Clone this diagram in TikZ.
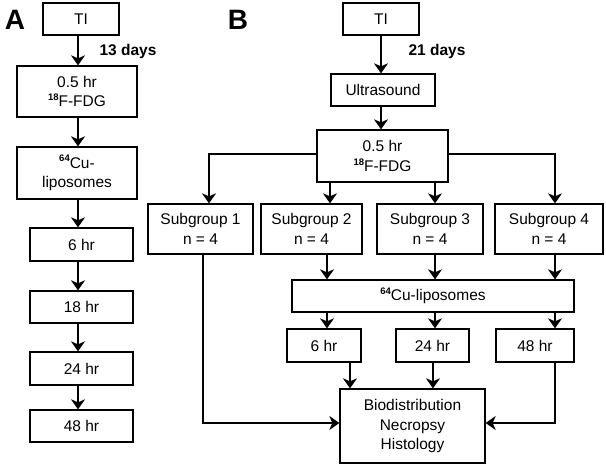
\documentclass[tikz,border=0pt]{standalone}
\usepackage{fontspec}
\setmainfont{Liberation Sans}
\usetikzlibrary{arrows.meta}
\newcommand\supr[1]{\raisebox{0.4em}{\fontsize{9.5}{10}\selectfont\bfseries #1}}
\tikzset{
  box/.style={draw, line width=1.3pt, inner sep=0pt, align=center, font=\fontsize{15.5}{19.5}\selectfont},
  arr/.style={line width=2.6pt, -{Stealth[length=10pt,width=14pt,inset=3pt]}},
  lbl/.style={font=\fontsize{28}{30}\selectfont\bfseries},
  days/.style={font=\fontsize{15.5}{18}\selectfont\bfseries}
}
\begin{document}
\begin{tikzpicture}[x=1pt,y=-1pt]
\useasboundingbox (0,0) rectangle (606,465);
% Panel A
\node[lbl] (A) at (15,20) {A};
\node[box, minimum width=76, minimum height=32] (aTI) at (81,19) {TI};
\node[box, minimum width=120, minimum height=51] (a05) at (77,91.5) {0.5 hr\\\supr{18}F-FDG};
\node[box, minimum width=120, minimum height=52] (aCu) at (77,173) {\supr{64}Cu-\\liposomes};
\node[box, minimum width=103, minimum height=33] (a6) at (81.5,244.5) {6 hr};
\node[box, minimum width=103, minimum height=32] (a18) at (81.5,307) {18 hr};
\node[box, minimum width=103, minimum height=33] (a24) at (81.5,368.5) {24 hr};
\node[box, minimum width=103, minimum height=32] (a48) at (81.5,426) {48 hr};
\node[days] (d13) at (128,51) {13 days};
\coordinate (ax) at (78,0);
\draw[arr] (aTI.south -| ax) -- (a05.north -| ax);
\draw[arr] (a05.south -| ax) -- (aCu.north -| ax);
\draw[arr] (aCu.south -| ax) -- (a6.north -| ax);
\draw[arr] (a6.south -| ax) -- (a18.north -| ax);
\draw[arr] (a18.south -| ax) -- (a24.north -| ax);
\draw[arr] (a24.south -| ax) -- (a48.north -| ax);
% Panel B
\node[lbl] (B) at (238,20) {B};
\node[box, minimum width=76, minimum height=32] (bTI) at (381,19) {TI};
\node[days] (d21) at (437,51) {21 days};
\node[box, minimum width=104, minimum height=32] (bUS) at (383,90) {Ultrasound};
\node[box, minimum width=131, minimum height=52] (b05) at (382.5,156) {0.5 hr\\\supr{18}F-FDG};
\node[box, minimum width=105, minimum height=50] (s1) at (200.5,229) {Subgroup 1\\n = 4};
\node[box, minimum width=101, minimum height=50] (s2) at (311.5,229) {Subgroup 2\\n = 4};
\node[box, minimum width=106, minimum height=50] (s3) at (430,229) {Subgroup 3\\n = 4};
\node[box, minimum width=108, minimum height=50] (s4) at (549,229) {Subgroup 4\\n = 4};
\node[box, minimum width=282, minimum height=32] (cu) at (433,296) {\supr{64}Cu-liposomes};
\node[box, minimum width=74, minimum height=33] (h6) at (324,345.5) {6 hr};
\node[box, minimum width=73, minimum height=33] (h24) at (432.5,345.5) {24 hr};
\node[box, minimum width=78, minimum height=33] (h48) at (535,345.5) {48 hr};
\node[box, minimum width=145, minimum height=74] (bio) at (412.5,426) {Biodistribution\\Necropsy\\Histology};
\coordinate (bx) at (381,0);
\coordinate (c1) at (209,0);
\coordinate (c1b) at (203,0);
\coordinate (c2) at (330,0);
\coordinate (c2b) at (327,0);
\coordinate (c3) at (435,0);
\coordinate (c4) at (555,0);
\coordinate (c6) at (350,0);
\coordinate (c24) at (433,0);
\coordinate (yb) at (0,154);
\coordinate (yj) at (0,423);
\draw[arr] (bTI.south -| bx) -- (bUS.north -| bx);
\draw[arr] (bUS.south -| bx) -- (b05.north -| bx);
\draw[arr] (b05.west |- yb) -| (s1.north -| c1);
\draw[arr] (b05.east |- yb) -| (s4.north -| c4);
\draw[arr] (b05.south -| c2) -- (s2.north -| c2);
\draw[arr] (b05.south -| c3) -- (s3.north -| c3);
\draw[arr] (s2.south -| c2b) -- (cu.north -| c2b);
\draw[arr] (s3.south -| c3) -- (cu.north -| c3);
\draw[arr] (s4.south -| c4) -- (cu.north -| c4);
\draw[arr] (cu.south -| c2b) -- (h6.north -| c2b);
\draw[arr] (cu.south -| c3) -- (h24.north -| c3);
\draw[arr] (cu.south -| c4) -- (h48.north -| c4);
\draw[arr] (h6.south -| c6) -- (bio.north -| c6);
\draw[arr] (h24.south -| c24) -- (bio.north -| c24);
\draw[arr] (s1.south -| c1b) |- (bio.west |- yj);
\draw[arr] (h48.south -| c4) |- (bio.east |- yj);
\end{tikzpicture}
\end{document}
